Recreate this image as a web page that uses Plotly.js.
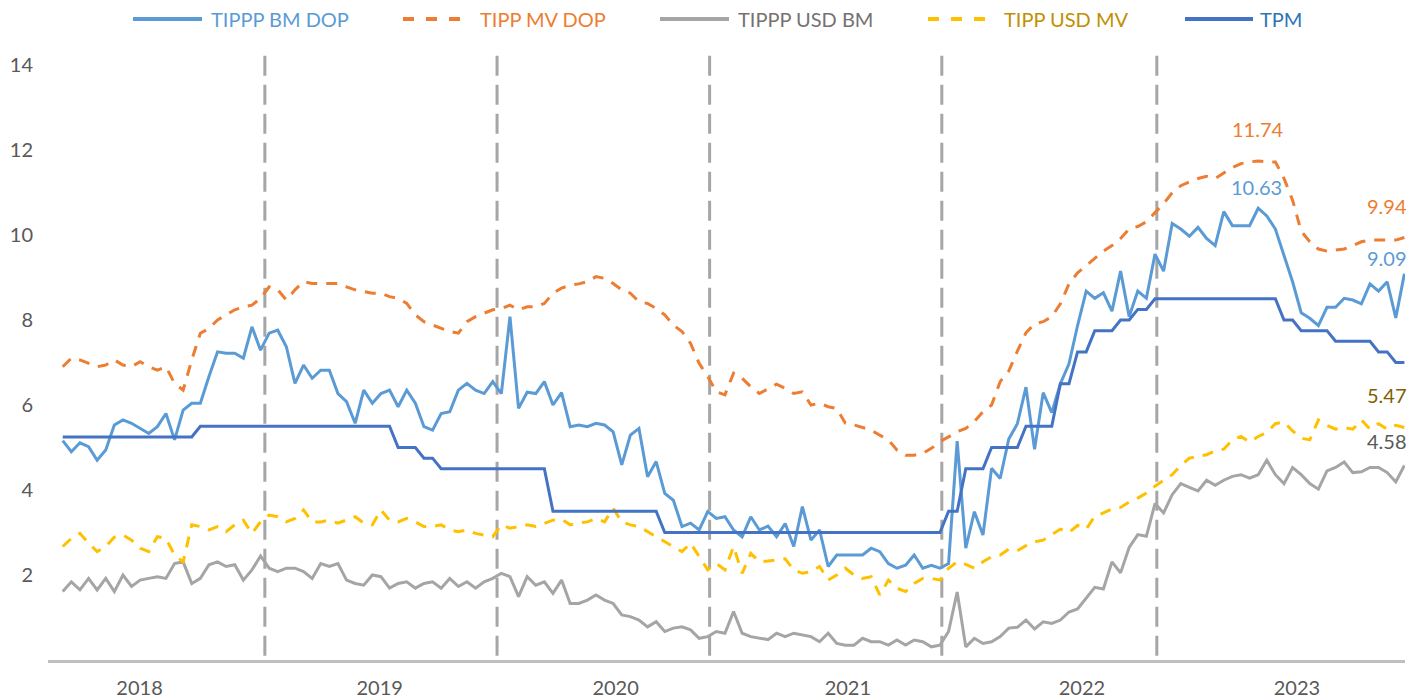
<!DOCTYPE html>
<html>
<head>
<meta charset="utf-8">
<script src="https://cdn.plot.ly/plotly-3.0.1.min.js"></script>
<style>
  html, body { margin: 0; padding: 0; background: #ffffff; }
  #chart { width: 1427px; height: 698px; }
</style>
</head>
<body>
<div id="chart"></div>
<script>
const START_DATE = '2017-12-15';
const STEP_DAYS = 14;

const TIPPP_BM_DOP = [
  5.16, 4.90, 5.11, 5.02, 4.70, 4.94, 5.53, 5.65, 5.57, 5.45,
  5.33, 5.49, 5.80, 5.18, 5.88, 6.04, 6.04, 6.67, 7.25, 7.22,
  7.22, 7.10, 7.84, 7.29, 7.69, 7.76, 7.37, 6.51, 6.94, 6.63,
  6.82, 6.82, 6.27, 6.08, 5.57, 6.35, 6.04, 6.27, 6.35, 5.96,
  6.35, 6.04, 5.49, 5.41, 5.80, 5.84, 6.35, 6.51, 6.35, 6.27,
  6.55, 6.27, 8.08, 5.92, 6.30, 6.27, 6.55, 6.00, 6.29, 5.49,
  5.53, 5.49, 5.57, 5.53, 5.37, 4.59, 5.29, 5.45, 4.31, 4.67,
  3.92, 3.76, 3.14, 3.22, 3.06, 3.49, 3.33, 3.37, 3.06, 2.90,
  3.37, 3.06, 3.15, 2.90, 3.21, 2.67, 3.61, 2.82, 3.06, 2.20,
  2.47, 2.47, 2.47, 2.47, 2.63, 2.55, 2.27, 2.16, 2.23, 2.47,
  2.16, 2.23, 2.16, 2.27, 5.15, 2.63, 3.49, 2.94, 4.51, 4.27,
  5.20, 5.56, 6.42, 4.96, 6.29, 5.82, 6.50, 6.97, 7.87, 8.68,
  8.51, 8.64, 8.21, 9.15, 8.08, 8.68, 8.51, 9.55, 9.15, 10.27,
  10.14, 9.97, 10.18, 9.92, 9.75, 10.55, 10.22, 10.22, 10.22, 10.63,
  10.45, 10.14, 9.50, 8.90, 8.17, 8.04, 7.87, 8.30, 8.30, 8.51,
  8.47, 8.38, 8.85, 8.68, 8.90, 8.05, 9.09
];

const TIPP_MV_DOP = [
  6.90, 7.10, 7.06, 6.98, 6.90, 6.94, 7.06, 6.94, 6.90, 7.02,
  6.90, 6.82, 6.90, 6.51, 6.35, 7.06, 7.69, 7.80, 8.00, 8.12,
  8.24, 8.31, 8.35, 8.51, 8.78, 8.71, 8.47, 8.71, 8.90, 8.86,
  8.86, 8.86, 8.86, 8.78, 8.71, 8.67, 8.63, 8.63, 8.55, 8.51,
  8.39, 8.12, 7.96, 7.88, 7.80, 7.73, 7.69, 7.96, 8.08, 8.16,
  8.24, 8.27, 8.35, 8.24, 8.31, 8.31, 8.39, 8.63, 8.75, 8.82,
  8.85, 8.90, 9.02, 8.98, 8.86, 8.71, 8.63, 8.43, 8.39, 8.27,
  8.12, 7.88, 7.73, 7.45, 6.98, 6.67, 6.31, 6.24, 6.75, 6.63,
  6.43, 6.27, 6.39, 6.49, 6.39, 6.27, 6.31, 6.00, 6.04, 5.96,
  5.92, 5.57, 5.53, 5.47, 5.41, 5.29, 5.18, 4.94, 4.82, 4.82,
  4.86, 4.98, 5.14, 5.25, 5.37, 5.45, 5.61, 5.84, 6.00, 6.55,
  6.80, 7.27, 7.70, 7.91, 7.96, 8.08, 8.38, 8.85, 9.11, 9.28,
  9.45, 9.62, 9.75, 9.92, 10.14, 10.20, 10.31, 10.52, 10.74, 10.99,
  11.16, 11.25, 11.33, 11.38, 11.33, 11.46, 11.59, 11.68, 11.72, 11.74,
  11.72, 11.72, 11.33, 10.82, 10.09, 9.84, 9.67, 9.62, 9.65, 9.67,
  9.75, 9.84, 9.88, 9.88, 9.88, 9.88, 9.94
];

const TIPPP_USD_BM = [
  1.61, 1.84, 1.65, 1.92, 1.65, 1.92, 1.61, 2.00, 1.73, 1.88,
  1.92, 1.96, 1.92, 2.27, 2.31, 1.80, 1.92, 2.24, 2.31, 2.20,
  2.24, 1.88, 2.12, 2.45, 2.16, 2.08, 2.16, 2.16, 2.08, 1.92,
  2.27, 2.20, 2.27, 1.88, 1.80, 1.76, 2.00, 1.96, 1.69, 1.80,
  1.84, 1.69, 1.80, 1.84, 1.69, 1.92, 1.73, 1.84, 1.69, 1.84,
  1.92, 2.04, 1.96, 1.49, 1.96, 1.76, 1.84, 1.57, 1.88, 1.33,
  1.33, 1.41, 1.53, 1.41, 1.33, 1.06, 1.02, 0.94, 0.78, 0.90,
  0.67, 0.75, 0.78, 0.71, 0.51, 0.55, 0.67, 0.63, 1.14, 0.63,
  0.55, 0.51, 0.48, 0.63, 0.55, 0.63, 0.59, 0.55, 0.43, 0.63,
  0.39, 0.35, 0.35, 0.51, 0.43, 0.43, 0.35, 0.47, 0.35, 0.47,
  0.43, 0.31, 0.35, 0.67, 1.60, 0.31, 0.51, 0.39, 0.43, 0.55,
  0.75, 0.77, 0.94, 0.73, 0.90, 0.86, 0.94, 1.13, 1.20, 1.45,
  1.71, 1.67, 2.31, 2.05, 2.65, 2.95, 2.91, 3.68, 3.46, 3.89,
  4.15, 4.06, 3.98, 4.23, 4.11, 4.23, 4.32, 4.36, 4.28, 4.36,
  4.70, 4.36, 4.15, 4.53, 4.36, 4.15, 4.02, 4.45, 4.53, 4.66,
  4.41, 4.43, 4.53, 4.53, 4.41, 4.19, 4.58
];

const TIPP_USD_MV = [
  2.67, 2.86, 2.98, 2.75, 2.55, 2.67, 2.89, 2.94, 2.82, 2.63,
  2.55, 2.90, 2.86, 2.47, 2.31, 3.18, 3.14, 3.06, 3.14, 3.02,
  3.18, 3.29, 2.98, 3.25, 3.41, 3.37, 3.25, 3.33, 3.53, 3.25,
  3.25, 3.29, 3.22, 3.29, 3.37, 3.22, 3.18, 3.53, 3.29, 3.25,
  3.33, 3.25, 3.14, 3.14, 3.18, 3.06, 3.02, 3.06, 2.98, 2.94,
  2.90, 3.18, 3.10, 3.14, 3.18, 3.14, 3.22, 3.29, 3.31, 3.18,
  3.23, 3.25, 3.33, 3.25, 3.57, 3.25, 3.18, 3.14, 3.02, 2.90,
  2.78, 2.67, 2.55, 2.75, 2.43, 2.12, 2.27, 2.12, 2.67, 2.04,
  2.51, 2.31, 2.33, 2.35, 2.38, 2.12, 2.04, 2.08, 2.20, 1.88,
  2.00, 2.16, 2.00, 1.92, 1.96, 1.53, 1.88, 1.69, 1.61, 1.80,
  1.92, 1.92, 1.88, 2.16, 2.31, 2.25, 2.16, 2.31, 2.43, 2.47,
  2.61, 2.57, 2.69, 2.78, 2.82, 2.95, 3.08, 3.00, 3.17, 3.08,
  3.38, 3.46, 3.55, 3.59, 3.72, 3.81, 3.93, 4.09, 4.23, 4.36,
  4.58, 4.75, 4.79, 4.83, 4.92, 4.96, 5.18, 5.26, 5.13, 5.26,
  5.35, 5.56, 5.60, 5.39, 5.22, 5.18, 5.65, 5.52, 5.43, 5.47,
  5.43, 5.65, 5.43, 5.56, 5.43, 5.52, 5.47
];

const TPM = [
  5.25, 5.25, 5.25, 5.25, 5.25, 5.25, 5.25, 5.25, 5.25, 5.25,
  5.25, 5.25, 5.25, 5.25, 5.25, 5.25, 5.5, 5.5, 5.5, 5.5,
  5.5, 5.5, 5.5, 5.5, 5.5, 5.5, 5.5, 5.5, 5.5, 5.5,
  5.5, 5.5, 5.5, 5.5, 5.5, 5.5, 5.5, 5.5, 5.5, 5.0,
  5.0, 5.0, 4.75, 4.75, 4.5, 4.5, 4.5, 4.5, 4.5, 4.5,
  4.5, 4.5, 4.5, 4.5, 4.5, 4.5, 4.5, 3.5, 3.5, 3.5,
  3.5, 3.5, 3.5, 3.5, 3.5, 3.5, 3.5, 3.5, 3.5, 3.5,
  3.0, 3.0, 3.0, 3.0, 3.0, 3.0, 3.0, 3.0, 3.0, 3.0,
  3.0, 3.0, 3.0, 3.0, 3.0, 3.0, 3.0, 3.0, 3.0, 3.0,
  3.0, 3.0, 3.0, 3.0, 3.0, 3.0, 3.0, 3.0, 3.0, 3.0,
  3.0, 3.0, 3.0, 3.5, 3.5, 4.5, 4.5, 4.5, 5.0, 5.0,
  5.0, 5.0, 5.5, 5.5, 5.5, 5.5, 6.5, 6.5, 7.25, 7.25,
  7.75, 7.75, 7.75, 8.0, 8.0, 8.25, 8.25, 8.5, 8.5, 8.5,
  8.5, 8.5, 8.5, 8.5, 8.5, 8.5, 8.5, 8.5, 8.5, 8.5,
  8.5, 8.5, 8.0, 8.0, 7.75, 7.75, 7.75, 7.75, 7.5, 7.5,
  7.5, 7.5, 7.5, 7.25, 7.25, 7.0, 7.0
];

const SERIES_NAMES = ['TIPPP BM DOP', 'TIPP MV DOP', 'TIPPP USD BM', 'TIPP USD MV', 'TPM'];
const YEAR_LABELS = ['2018', '2019', '2020', '2021', '2022', '2023'];
const YEAR_LABEL_DATES = ['2018-04-19', '2019-05-15', '2020-06-02', '2021-06-15', '2022-07-01', '2023-06-16'];
const MARKER_DATES = ['2018-11-09', '2019-11-22', '2020-11-02', '2021-11-15', '2022-10-31'];
const Y_TICKS = [2, 4, 6, 8, 10, 12, 14];

// ---------- build x categories (bi-weekly dates) ----------
function buildDates(start, stepDays, n) {
  const out = [];
  const t0 = Date.parse(start + 'T00:00:00Z');
  for (let i = 0; i < n; i++) {
    out.push(new Date(t0 + i * stepDays * 86400000).toISOString().slice(0, 10));
  }
  return out;
}
const DATES = buildDates(START_DATE, STEP_DAYS, TPM.length);
const LAST = DATES.length - 1;
const PEAK_IDX = TIPP_MV_DOP.indexOf(Math.max.apply(null, TIPP_MV_DOP));

// ---------- styles ----------
const COLORS = ['#5B9BD5', '#ED7D31', '#A5A5A5', '#FFC000', '#4472C4'];
const TEXT_COLORS = ['#5B9BD5', '#ED7D31', '#767171', '#BF9000', '#2E75B6'];
const DASHES = ['solid', '11px,9px', 'solid', '11px,9px', 'solid'];
const FONT = 'Lato, "Open Sans", "DejaVu Sans", sans-serif';

const SERIES = [TIPPP_BM_DOP, TIPP_MV_DOP, TIPPP_USD_BM, TIPP_USD_MV, TPM];
const traces = SERIES.map((vals, k) => ({
  type: 'scatter',
  mode: 'lines',
  name: SERIES_NAMES[k],
  x: DATES,
  y: vals,
  line: { color: COLORS[k], width: 3, dash: DASHES[k] },
  showlegend: false,
  hoverinfo: 'x+y+name'
}));

const PLOT_L = 48, PLOT_R = 1405, PLOT_T = 40, PLOT_B = 660;
const px2paperX = p => (p - PLOT_L) / (PLOT_R - PLOT_L);
const px2paperY = p => (PLOT_B - p) / (PLOT_B - PLOT_T);

const LEGEND_SYM = [[133, 202], [403, 472], [660, 729], [928, 997], [1185, 1253]];
const LEGEND_TXT = [209, 478, 736, 1002, 1258];
const LEGEND_Y = 19;
const LEGEND_DASH = ['solid', '11px,12px', 'solid', '11px,12px', 'solid'];

const shapes = [];
MARKER_DATES.forEach(d => {
  shapes.push({
    type: 'line', xref: 'x', yref: 'y', x0: d, x1: d, y0: 0.1, y1: 14.25,
    line: { color: '#A6A6A6', width: 3, dash: '20px,9px' }, layer: 'below'
  });
});
LEGEND_SYM.forEach((s, k) => {
  shapes.push({
    type: 'line', xref: 'paper', yref: 'paper',
    x0: px2paperX(s[0]), x1: px2paperX(s[1]),
    y0: px2paperY(LEGEND_Y), y1: px2paperY(LEGEND_Y),
    line: { color: COLORS[k], width: 4, dash: LEGEND_DASH[k] }
  });
});

const annotations = [];
SERIES_NAMES.forEach((nm, k) => {
  annotations.push({
    xref: 'paper', yref: 'paper', x: px2paperX(LEGEND_TXT[k]), y: px2paperY(LEGEND_Y),
    xanchor: 'left', yanchor: 'middle', showarrow: false, text: nm,
    font: { family: FONT, size: 20, color: TEXT_COLORS[k] }
  });
});

const LABEL_FONT = 20;
annotations.push(
  { x: DATES[PEAK_IDX], y: TIPP_MV_DOP[PEAK_IDX], text: TIPP_MV_DOP[PEAK_IDX].toFixed(2),
    showarrow: false, yshift: 32, xshift: 0, font: { family: FONT, size: LABEL_FONT, color: '#ED7D31' } },
  { x: DATES[PEAK_IDX], y: TIPPP_BM_DOP[PEAK_IDX], text: TIPPP_BM_DOP[PEAK_IDX].toFixed(2),
    showarrow: false, yshift: 21, xshift: -2, font: { family: FONT, size: LABEL_FONT, color: '#5B9BD5' } },
  { x: DATES[LAST], y: TIPP_MV_DOP[LAST], text: TIPP_MV_DOP[LAST].toFixed(2),
    showarrow: false, yshift: 32, xshift: -17, font: { family: FONT, size: LABEL_FONT, color: '#ED7D31' } },
  { x: DATES[LAST], y: TIPPP_BM_DOP[LAST], text: TIPPP_BM_DOP[LAST].toFixed(2),
    showarrow: false, yshift: 16, xshift: -17, font: { family: FONT, size: LABEL_FONT, color: '#5B9BD5' } },
  { x: DATES[LAST], y: TIPP_USD_MV[LAST], text: TIPP_USD_MV[LAST].toFixed(2),
    showarrow: false, yshift: 33, xshift: -17, font: { family: FONT, size: LABEL_FONT, color: '#7F6000' } },
  { x: DATES[LAST], y: TIPPP_USD_BM[LAST], text: TIPPP_USD_BM[LAST].toFixed(2),
    showarrow: false, yshift: 24, xshift: -17, font: { family: FONT, size: LABEL_FONT, color: '#595959' } }
);

const layout = {
  width: 1427,
  height: 698,
  margin: { l: PLOT_L, r: 1427 - PLOT_R, t: PLOT_T, b: 698 - PLOT_B, pad: 0 },
  paper_bgcolor: '#ffffff',
  plot_bgcolor: '#ffffff',
  font: { family: FONT, size: 20, color: '#595959' },
  showlegend: false,
  xaxis: {
    type: 'date',
    range: ['2017-11-21', '2023-12-09'],
    tickmode: 'array',
    tickvals: YEAR_LABEL_DATES,
    ticktext: YEAR_LABELS,
    showgrid: false,
    zeroline: false,
    showline: true,
    linecolor: '#BFBFBF',
    linewidth: 3,
    ticks: 'outside',
    ticklen: 8,
    tickcolor: 'rgba(0,0,0,0)',
    tickfont: { family: FONT, size: 20, color: '#595959' },
    fixedrange: true
  },
  yaxis: {
    range: [0, (PLOT_B - PLOT_T) / 42.5],
    tickmode: 'array',
    tickvals: Y_TICKS,
    ticktext: Y_TICKS.map(String),
    showgrid: false,
    zeroline: false,
    showline: false,
    ticks: 'outside',
    ticklen: 10,
    tickcolor: 'rgba(0,0,0,0)',
    tickfont: { family: FONT, size: 20, color: '#595959' },
    fixedrange: true
  },
  shapes: shapes,
  annotations: annotations
};

Plotly.newPlot('chart', traces, layout, { displayModeBar: false, responsive: false });
</script>
</body>
</html>
